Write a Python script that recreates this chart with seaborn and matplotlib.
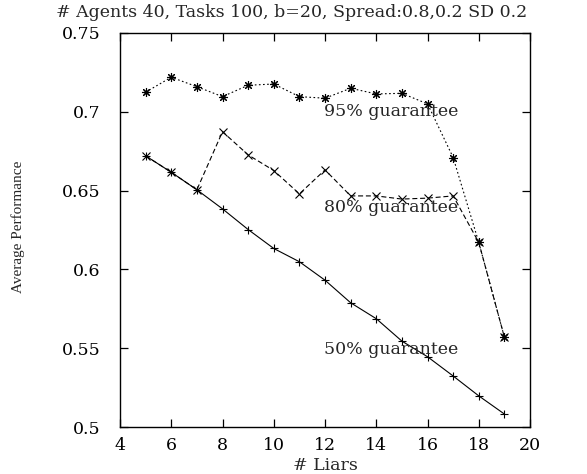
import matplotlib
matplotlib.use("Agg")
import matplotlib.pyplot as plt
import pandas as pd
import seaborn as sns

liars = [5, 6, 7, 8, 9, 10, 11, 12, 13, 14, 15, 16, 17, 18, 19]
perf_95 = [0.7123, 0.7218, 0.7158, 0.7095, 0.7167, 0.7175, 0.7095, 0.7085,
           0.7148, 0.7112, 0.7116, 0.7049, 0.6709, 0.6171, 0.5570]
perf_80 = [0.6720, 0.6616, 0.6505, 0.6873, 0.6726, 0.6627, 0.6479, 0.6631,
           0.6466, 0.6466, 0.6446, 0.6452, 0.6466, 0.6171, 0.5570]
perf_50 = [0.6720, 0.6616, 0.6505, 0.6384, 0.6253, 0.6133, 0.6049, 0.5932,
           0.5789, 0.5688, 0.5546, 0.5447, 0.5325, 0.5199, 0.5084]

x_ticks = [4, 6, 8, 10, 12, 14, 16, 18, 20]
y_ticks = [0.5, 0.55, 0.6, 0.65, 0.7, 0.75]
y_tick_labels = ["0.5", "0.55", "0.6", "0.65", "0.7", "0.75"]

sns.set_theme(style="ticks")
plt.rcParams["font.family"] = ["DejaVu Serif"]

fig = plt.figure(figsize=(5.87, 4.74), dpi=100)
ax = fig.add_axes([0.2044, 0.0985, 0.6986, 0.8325])

df = pd.DataFrame({"liars": liars, "p95": perf_95, "p80": perf_80, "p50": perf_50})

mk = dict(color="black", linewidth=0.8, markeredgewidth=0.8,
          markeredgecolor="black", markerfacecolor="none")
sns.lineplot(data=df, x="liars", y="p95", ax=ax, marker=(8, 2, 0), markersize=6.5,
             linestyle=(0, (1.5, 2.2)), **mk)
sns.lineplot(data=df, x="liars", y="p80", ax=ax, marker="x", markersize=6,
             linestyle=(0, (4.5, 2.5)), **mk)
sns.lineplot(data=df, x="liars", y="p50", ax=ax, marker="+", markersize=6, **mk)

ax.set_xlim(4, 20)
ax.set_ylim(0.5, 0.75)
ax.set_xticks(x_ticks)
ax.set_yticks(y_ticks)
ax.set_yticklabels(y_tick_labels)
ax.tick_params(direction="in", length=6, width=0.9, top=True, right=True,
               labelsize=12.5, colors="black")
ax.tick_params(axis="y", pad=14)
ax.tick_params(axis="x", pad=7)
for s in ax.spines.values():
    s.set_linewidth(1.0)
    s.set_color("black")

ax.text(11.95, 0.7, "95% guarantee", fontsize=12.5, va="center", ha="left")
ax.text(11.95, 0.639, "80% guarantee", fontsize=12.5, va="center", ha="left")
ax.text(11.95, 0.549, "50% guarantee", fontsize=12.5, va="center", ha="left")

ax.set_xlabel("# Liars", fontsize=12.5, labelpad=2)
ax.set_ylabel("Average Performance", fontsize=11, family="Liberation Serif")
ax.yaxis.set_label_coords(-0.232, 0.509)
fig.text(0.497, 0.973, "# Agents 40, Tasks 100, b=20, Spread:0.8,0.2 SD 0.2",
         fontsize=12.5, ha="center", va="center")

fig.savefig("out.png", dpi=100)
